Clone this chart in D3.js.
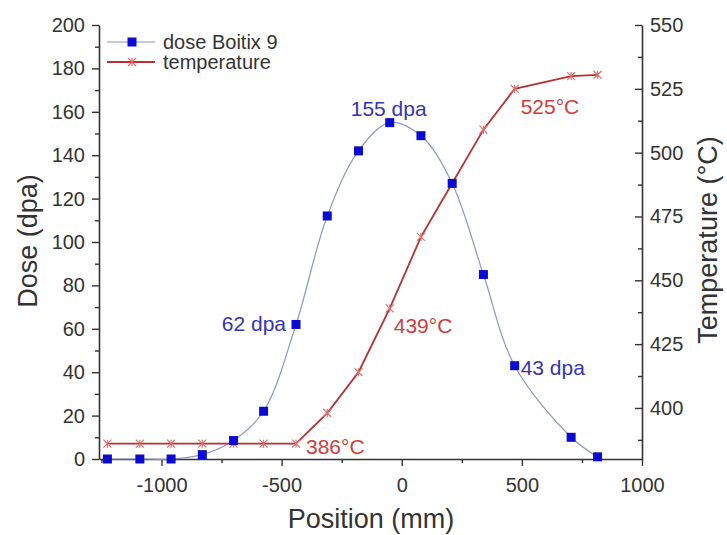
<!DOCTYPE html>
<html>
<head>
<meta charset="utf-8">
<script src="https://cdn.jsdelivr.net/npm/d3@7"></script>
<style>
  html, body { margin: 0; padding: 0; background: #fff; }
  svg { display: block; font-family: Arial, "Liberation Sans", Helvetica, sans-serif; }
</style>
</head>
<body>
<svg id="chart" width="727" height="535"></svg>
<script>
// Axial position along the rig (mm)
const positions = [-1225, -1090, -960, -830, -700, -575, -440, -310, -180, -50, 80, 210, 340, 470, 705, 815];
// Irradiation dose (dpa)
const dose = [0, 0, 0, 2, 8.5, 22, 62, 112, 142, 155, 149, 127, 85, 43, 10, 1];
// Temperature (°C)
const temperature = [386, 386, 386, 386, 386, 386, 386, 398, 414, 439, 467, 488, 509, 525, 530, 530.5];

const xTicks = [-1000, -500, 0, 500, 1000];
const doseTicks = [0, 20, 40, 60, 80, 100, 120, 140, 160, 180, 200];
const tempTicks = [400, 425, 450, 475, 500, 525, 550];

// Point annotations: [index, text]
const doseNotes = [[9, "155 dpa"], [6, "62 dpa"], [13, "43 dpa"]];
const tempNotes = [[6, "386°C"], [9, "439°C"], [13, "525°C"]];

const legendNames = ["dose Boitix 9", "temperature"];

const svg = d3.select("#chart");
const plotLeft = 99, plotRight = 642, plotTop = 25, plotBottom = 459;

const x = d3.scaleLinear().domain([-1260, 1000]).range([plotLeft, plotRight]);
const yDose = d3.scaleLinear().domain([0, 200]).range([plotBottom, plotTop]);
const yTemp = d3.scaleLinear().domain([380, 550]).range([plotBottom, plotTop]);

const axisColor = "#333";
const blue = "#0a0ad2";
const doseLineColor = "#8d96bd";
const red = "#b8302f";
const crossColor = "#e0706f";

function styleAxis(g, fontSize) {
  g.selectAll("path.domain").attr("stroke", axisColor).attr("stroke-width", 1.6);
  g.selectAll(".tick line").attr("stroke", axisColor).attr("stroke-width", 1.4);
  g.selectAll(".tick text").attr("fill", "#333").attr("font-size", fontSize)
    .attr("font-family", "Arial, 'Liberation Sans', sans-serif");
}

// Plain hyphen for negative tick labels
const plainInt = v => String(Math.round(v));

// Minor ticks
const xMinor = d3.range(-1250, 1001, 250).filter(v => !xTicks.includes(v));
const doseMinor = d3.range(10, 200, 20);
const tempMinor = d3.range(387.5, 550, 25);

svg.append("g").attr("transform", `translate(0,${plotBottom})`)
  .call(d3.axisBottom(x).tickValues(xMinor).tickSize(4).tickFormat(""))
  .call(g => g.select(".domain").remove())
  .call(g => styleAxis(g, 20));
svg.append("g").attr("transform", `translate(${plotLeft},0)`)
  .call(d3.axisLeft(yDose).tickValues(doseMinor).tickSize(4).tickFormat(""))
  .call(g => g.select(".domain").remove())
  .call(g => styleAxis(g, 20));
svg.append("g").attr("transform", `translate(${plotRight},0)`)
  .call(d3.axisRight(yTemp).tickValues(tempMinor).tickSize(-4).tickFormat(""))
  .call(g => g.select(".domain").remove())
  .call(g => styleAxis(g, 20));

// Major axes
svg.append("g").attr("transform", `translate(0,${plotBottom})`)
  .call(d3.axisBottom(x).tickValues(xTicks).tickSize(7).tickSizeOuter(0).tickPadding(12).tickFormat(plainInt))
  .call(g => styleAxis(g, 20));
svg.append("g").attr("transform", `translate(${plotLeft},0)`)
  .call(d3.axisLeft(yDose).tickValues(doseTicks).tickSize(7).tickSizeOuter(0).tickPadding(7).tickFormat(plainInt))
  .call(g => styleAxis(g, 20));
svg.append("g").attr("transform", `translate(${plotRight},0)`)
  .call(d3.axisRight(yTemp).tickValues(tempTicks).tickSize(-7).tickSizeOuter(0).tickPadding(8).tickFormat(plainInt))
  .call(g => styleAxis(g, 20));

// Axis titles
svg.append("text").attr("x", 371).attr("y", 528).attr("text-anchor", "middle")
  .attr("font-size", 27).attr("fill", "#333").text("Position (mm)");
svg.append("text").attr("transform", "translate(37,241) rotate(-90)").attr("text-anchor", "middle")
  .attr("font-size", 27).attr("fill", "#333").text("Dose (dpa)");
svg.append("text").attr("transform", "translate(717,240) rotate(-90)").attr("text-anchor", "middle")
  .attr("font-size", 27).attr("fill", "#333").text("Temperature (°C)");

const doseData = positions.map((p, i) => ({ p, v: dose[i] }));
const tempData = positions.map((p, i) => ({ p, v: temperature[i] }));

// Dose curve
svg.append("path").datum(doseData)
  .attr("fill", "none").attr("stroke", doseLineColor).attr("stroke-width", 1.2)
  .attr("d", d3.line().x(d => x(d.p)).y(d => yDose(d.v)).curve(d3.curveCatmullRom.alpha(0.5)));

// Temperature curve
svg.append("path").datum(tempData)
  .attr("fill", "none").attr("stroke", red).attr("stroke-width", 1.8)
  .attr("d", d3.line().x(d => x(d.p)).y(d => yTemp(d.v)));

function cross(sel, cx, cy, r) {
  sel.append("path")
    .attr("d", `M${cx - r},${cy - r}L${cx + r},${cy + r}M${cx - r},${cy + r}L${cx + r},${cy - r}M${cx},${cy - r}L${cx},${cy + r}`)
    .attr("stroke", crossColor).attr("stroke-width", 1.2).attr("fill", "none");
}

// Temperature markers
const tempMarks = svg.append("g");
tempData.forEach(d => cross(tempMarks, x(d.p), yTemp(d.v), 4));

// Dose markers
svg.append("g").selectAll("rect").data(doseData).join("rect")
  .attr("x", d => x(d.p) - 4.5).attr("y", d => yDose(d.v) - 4.5)
  .attr("width", 9).attr("height", 9).attr("fill", blue);

// Annotations
const doseNoteColor = "#3434b4";
svg.append("text").attr("x", x(positions[doseNotes[0][0]]) - 1).attr("y", 116)
  .attr("text-anchor", "middle").attr("font-size", 21).attr("fill", doseNoteColor)
  .text(doseNotes[0][1]);
svg.append("text").attr("x", x(positions[doseNotes[1][0]]) - 10).attr("y", yDose(dose[doseNotes[1][0]]) + 7)
  .attr("text-anchor", "end").attr("font-size", 21).attr("fill", doseNoteColor)
  .text(doseNotes[1][1]);
svg.append("text").attr("x", x(positions[doseNotes[2][0]]) + 6).attr("y", yDose(dose[doseNotes[2][0]]) + 9)
  .attr("text-anchor", "start").attr("font-size", 21).attr("fill", doseNoteColor)
  .text(doseNotes[2][1]);

const tempNoteColor = "#d03b3b";
svg.append("text").attr("x", x(positions[tempNotes[0][0]]) + 10).attr("y", yTemp(temperature[tempNotes[0][0]]) + 10)
  .attr("font-size", 21).attr("fill", tempNoteColor).text(tempNotes[0][1]);
svg.append("text").attr("x", x(positions[tempNotes[1][0]]) + 4).attr("y", yTemp(temperature[tempNotes[1][0]]) + 25)
  .attr("font-size", 21).attr("fill", tempNoteColor).text(tempNotes[1][1]);
svg.append("text").attr("x", x(positions[tempNotes[2][0]]) + 6).attr("y", yTemp(temperature[tempNotes[2][0]]) + 25)
  .attr("font-size", 21).attr("fill", tempNoteColor).text(tempNotes[2][1]);

// Legend
const lg = svg.append("g");
lg.append("line").attr("x1", 107).attr("x2", 155).attr("y1", 42).attr("y2", 42)
  .attr("stroke", doseLineColor).attr("stroke-width", 1.2);
lg.append("rect").attr("x", 127.5).attr("y", 37.5).attr("width", 9).attr("height", 9).attr("fill", blue);
lg.append("text").attr("x", 163).attr("y", 49).attr("font-size", 20).attr("fill", "#333").text(legendNames[0]);
lg.append("line").attr("x1", 107).attr("x2", 155).attr("y1", 62).attr("y2", 62)
  .attr("stroke", red).attr("stroke-width", 1.8);
cross(lg, 132, 62, 4);
lg.append("text").attr("x", 163).attr("y", 69).attr("font-size", 20).attr("fill", "#333").text(legendNames[1]);
</script>
</body>
</html>
